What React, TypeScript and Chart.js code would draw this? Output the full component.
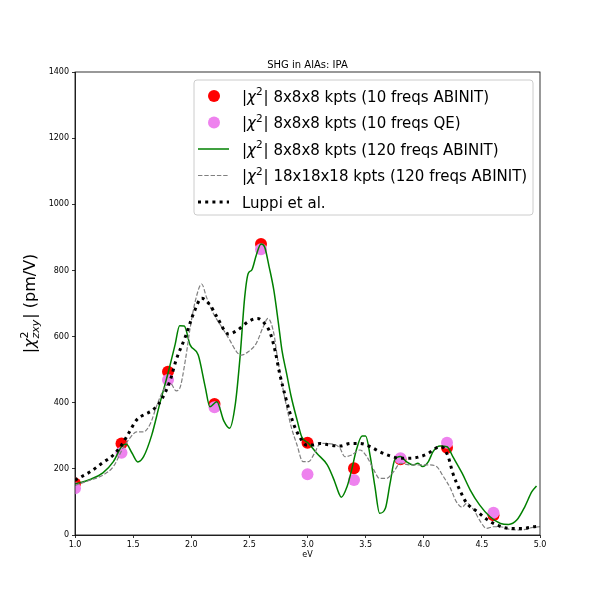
import {useEffect, useRef} from "react";
import {Chart, registerables} from "chart.js";

Chart.register(...registerables);

const FONT = '"DejaVu Sans", sans-serif';

const TITLE = "SHG in AlAs: IPA";
const X_LABEL = "eV";

const xTicks = [1.0, 1.5, 2.0, 2.5, 3.0, 3.5, 4.0, 4.5, 5.0];
const yTicks = [0, 200, 400, 600, 800, 1000, 1200, 1400];

// 10 frequency points
const freqX = [1.0, 1.4, 1.8, 2.2, 2.6, 3.0, 3.4, 3.8, 4.2, 4.6];
const abinit10 = [156, 277, 494, 396, 880, 279, 202, 229, 264, 60];
const qe10 = [141, 249, 469, 386, 864, 184, 166, 232, 279, 67];

// 8x8x8 kpts, 120 freqs ABINIT
const abinit120X = [
  1.0, 1.13, 1.24, 1.33, 1.4, 1.44, 1.49, 1.54, 1.59, 1.66, 1.73, 1.8, 1.86, 1.9, 1.94,
  1.99, 2.06, 2.12, 2.16, 2.22, 2.28, 2.33, 2.38, 2.42, 2.46, 2.49, 2.52, 2.56, 2.6, 2.63,
  2.67, 2.71, 2.75, 2.78, 2.82, 2.86, 2.91, 2.95, 3.01, 3.08, 3.17, 3.23, 3.27, 3.29, 3.34,
  3.38, 3.42, 3.47, 3.5, 3.54, 3.58, 3.62, 3.67, 3.71, 3.75, 3.8, 3.85, 3.91, 3.95, 3.99,
  4.04, 4.08, 4.14, 4.2, 4.25, 4.33, 4.4, 4.48, 4.57, 4.66, 4.73, 4.8, 4.87, 4.93, 4.97,
];
const abinit120Y = [
  154, 168, 188, 222, 267, 275, 248, 221, 237, 302, 398, 489, 574, 633, 632,
  575, 544, 448, 388, 403, 345, 323, 398, 539, 720, 791, 801, 847, 880, 872,
  811, 741, 640, 559, 489, 418, 348, 297, 277, 247, 212, 165, 126, 114, 146,
  197, 257, 299, 299, 237, 146, 66, 81, 156, 227, 237, 222, 212, 217, 207,
  222, 252, 269, 267, 237, 187, 136, 91, 55, 35, 32, 45, 86, 131, 148,
];

// 18x18x18 kpts, 120 freqs ABINIT
const fineX = [
  1.0, 1.13, 1.24, 1.33, 1.42, 1.47, 1.53, 1.59, 1.65, 1.7, 1.76, 1.82, 1.87, 1.9, 1.95,
  1.99, 2.04, 2.09, 2.13, 2.19, 2.26, 2.33, 2.39, 2.43, 2.49, 2.56, 2.62, 2.66, 2.71, 2.74,
  2.78, 2.82, 2.86, 2.91, 2.96, 3.01, 3.06, 3.11, 3.22, 3.28, 3.32, 3.38, 3.45, 3.51, 3.57,
  3.62, 3.68, 3.74, 3.8, 3.88, 3.97, 4.05, 4.11, 4.17, 4.23, 4.28, 4.33, 4.37, 4.43, 4.48,
  4.54, 4.6, 4.66, 4.74, 4.83, 4.94, 5.0,
];
const fineY = [
  150, 166, 181, 207, 267, 292, 312, 312, 338, 388, 438, 459, 436, 443, 530,
  625, 715, 759, 720, 670, 630, 590, 554, 544, 554, 580, 630, 655, 610, 539,
  459, 388, 327, 272, 222, 222, 247, 277, 275, 262, 237, 242, 257, 237, 197,
  171, 171, 191, 217, 212, 212, 212, 207, 176, 141, 101, 84, 96, 76, 45,
  20, 25, 25, 17, 15, 23, 25,
];

// Luppi et al.
const luppiX = [
  1.0, 1.13, 1.24, 1.33, 1.4, 1.46, 1.53, 1.6, 1.67, 1.75, 1.82, 1.87, 1.95, 2.02, 2.09,
  2.16, 2.22, 2.32, 2.4, 2.49, 2.57, 2.63, 2.68, 2.72, 2.76, 2.81, 2.85, 2.89, 2.94, 2.99,
  3.05, 3.11, 3.19, 3.28, 3.37, 3.45, 3.54, 3.62, 3.71, 3.8, 3.88, 3.97, 4.04, 4.1, 4.15,
  4.21, 4.25, 4.31, 4.37, 4.46, 4.54, 4.63, 4.74, 4.86, 4.94, 5.0,
];
const luppiY = [
  166, 191, 219, 242, 272, 307, 348, 365, 378, 413, 469, 529, 600, 670, 716,
  696, 660, 608, 620, 645, 655, 640, 610, 559, 489, 418, 368, 327, 292, 272,
  272, 277, 272, 269, 277, 277, 267, 252, 239, 232, 232, 237, 247, 262, 267,
  237, 187, 136, 96, 71, 48, 30, 20, 20, 25, 27,
];

const seriesLabels = [
  "|χ²| 8x8x8 kpts (10 freqs ABINIT)",
  "|χ²| 8x8x8 kpts (10 freqs QE)",
  "|χ²| 8x8x8 kpts (120 freqs ABINIT)",
  "|χ²| 18x18x18 kpts (120 freqs ABINIT)",
  "Luppi et al.",
];

type Seg =
  | {t: string; size: number; italic?: boolean; dy?: number}
  | {sup: string; sub?: string; size: number; supDy: number; subDy?: number};

const fontStr = (size: number, italic?: boolean) => `${italic ? "italic " : ""}${size}px ${FONT}`;

function segsFromLabel(label: string, size: number): Seg[] {
  const out: Seg[] = [];
  let buf = "";
  const flush = () => {
    if (buf) out.push({t: buf, size});
    buf = "";
  };
  for (const ch of label) {
    if (ch === "χ") {
      flush();
      out.push({t: "χ", size, italic: true});
    } else if (ch === "²") {
      flush();
      out.push({sup: "2", size: size * 0.7, supDy: -size * 0.42});
    } else {
      buf += ch;
    }
  }
  flush();
  return out;
}

function drawRich(ctx: CanvasRenderingContext2D, segs: Seg[], x: number, y: number, draw = true) {
  let cx = x;
  for (const s of segs) {
    if ("sup" in s) {
      ctx.font = fontStr(s.size);
      const w1 = ctx.measureText(s.sup).width;
      if (draw) ctx.fillText(s.sup, cx, y + s.supDy);
      let w2 = 0;
      if (s.sub) {
        ctx.font = fontStr(s.size, true);
        w2 = ctx.measureText(s.sub).width;
        if (draw) ctx.fillText(s.sub, cx, y + (s.subDy || 0));
      }
      cx += Math.max(w1, w2) + 1;
    } else {
      ctx.font = fontStr(s.size, s.italic);
      if (draw) ctx.fillText(s.t, cx, y + (s.dy || 0));
      cx += ctx.measureText(s.t).width;
    }
  }
  return cx - x;
}

const yLabelSegs: Seg[] = [
  {t: "|", size: 16},
  {t: "χ", size: 16, italic: true},
  {sup: "2", sub: "zxy", size: 11, supDy: -7, subDy: 4},
  {t: "| (pm/V)", size: 16},
];

type Handle = {kind: "dot" | "line"; color: string; width?: number; dash?: number[]};
const legendHandles: Handle[] = [
  {kind: "dot", color: "#ff0000"},
  {kind: "dot", color: "#ee82ee"},
  {kind: "line", color: "#008000", width: 1.5},
  {kind: "line", color: "#808080", width: 1.2, dash: [4.4, 1.9]},
  {kind: "line", color: "#000000", width: 3, dash: [3, 4.2]},
];

const decorPlugin = {
  id: "decor",
  afterDraw(chart: Chart) {
    const {ctx, chartArea: a} = chart;
    ctx.save();
    ctx.strokeStyle = "#000";
    ctx.lineWidth = 0.8;
    ctx.strokeRect(a.left, a.top, a.right - a.left, a.bottom - a.top);

    ctx.fillStyle = "#000";
    ctx.textAlign = "center";
    ctx.textBaseline = "middle";
    ctx.font = fontStr(10);
    ctx.fillText(TITLE, (a.left + a.right) / 2, 65);
    ctx.font = fontStr(8);
    ctx.fillText(X_LABEL, (a.left + a.right) / 2, 555);

    // y axis label
    ctx.textAlign = "left";
    ctx.textBaseline = "alphabetic";
    ctx.save();
    ctx.translate(35, (a.top + a.bottom) / 2);
    ctx.rotate(-Math.PI / 2);
    const w = drawRich(ctx, yLabelSegs, 0, 0, false);
    drawRich(ctx, yLabelSegs, -w / 2, 0);
    ctx.restore();

    // legend
    const lx = 194, ly = 80, lw = 339, lh = 135;
    ctx.beginPath();
    ctx.roundRect(lx, ly, lw, lh, 3);
    ctx.fillStyle = "rgba(255,255,255,0.8)";
    ctx.fill();
    ctx.strokeStyle = "#cccccc";
    ctx.lineWidth = 1;
    ctx.stroke();
    seriesLabels.forEach((label, i) => {
      const cy = 96 + i * 26.5;
      const h = legendHandles[i];
      if (h.kind === "dot") {
        ctx.beginPath();
        ctx.arc(214, cy, 6, 0, Math.PI * 2);
        ctx.fillStyle = h.color;
        ctx.fill();
      } else {
        ctx.beginPath();
        ctx.setLineDash(h.dash || []);
        ctx.lineCap = "butt";
        ctx.strokeStyle = h.color;
        ctx.lineWidth = h.width || 1;
        ctx.moveTo(198, cy);
        ctx.lineTo(229, cy);
        ctx.stroke();
        ctx.setLineDash([]);
      }
      ctx.fillStyle = "#000";
      drawRich(ctx, segsFromLabel(label, 15), 242, cy + 5.5);
    });
    ctx.restore();
  },
};

const pts = (xs: number[], ys: number[]) => xs.map((x, i) => ({x, y: ys[i]}));

export default function App() {
  const chartRef = useRef<HTMLCanvasElement>(null);
  const chartInstance = useRef<Chart | null>(null);

  useEffect(() => {
    if (!chartRef.current) return;
    if (chartInstance.current) chartInstance.current.destroy();

    const ctx = chartRef.current.getContext("2d");
    if (!ctx) return;

    const tickFont = {family: FONT, size: 8};

    chartInstance.current = new Chart(ctx, {
      type: "scatter",
      data: {
        datasets: [
          {
            label: seriesLabels[0],
            data: pts(freqX, abinit10),
            backgroundColor: "#ff0000",
            borderWidth: 0,
            pointRadius: 6,
            pointHoverRadius: 6,
            showLine: false,
            order: 5,
          },
          {
            label: seriesLabels[1],
            data: pts(freqX, qe10),
            backgroundColor: "#ee82ee",
            borderWidth: 0,
            pointRadius: 6,
            pointHoverRadius: 6,
            showLine: false,
            order: 4,
          },
          {
            label: seriesLabels[2],
            data: pts(abinit120X, abinit120Y),
            borderColor: "#008000",
            borderWidth: 1.5,
            pointRadius: 0,
            showLine: true,
            cubicInterpolationMode: "monotone",
            order: 3,
          },
          {
            label: seriesLabels[3],
            data: pts(fineX, fineY),
            borderColor: "#808080",
            borderWidth: 1.2,
            borderDash: [4.4, 1.9],
            pointRadius: 0,
            showLine: true,
            cubicInterpolationMode: "monotone",
            order: 2,
          },
          {
            label: seriesLabels[4],
            data: pts(luppiX, luppiY),
            borderColor: "#000000",
            borderWidth: 3,
            borderDash: [3, 4.2],
            borderCapStyle: "butt",
            pointRadius: 0,
            showLine: true,
            cubicInterpolationMode: "monotone",
            order: 1,
          },
        ],
      },
      options: {
        responsive: false,
        animation: false,
        layout: {padding: {left: 35, right: 60, top: 72, bottom: 45}},
        scales: {
          x: {
            type: "linear",
            min: 1,
            max: 5,
            afterFit: scale => {
              scale.height = 20;
            },
            afterBuildTicks: scale => {
              scale.ticks = xTicks.map(v => ({value: v}));
            },
            grid: {drawOnChartArea: false, drawTicks: true, tickLength: 3, color: "#000", lineWidth: 0.8},
            border: {color: "#000", width: 0.8},
            ticks: {
              font: tickFont,
              color: "#000",
              padding: 2,
              maxRotation: 0,
              autoSkip: false,
              callback: v => Number(v).toFixed(1),
            },
          },
          y: {
            type: "linear",
            min: 0,
            max: 1400,
            afterFit: scale => {
              scale.width = 40;
            },
            afterBuildTicks: scale => {
              scale.ticks = yTicks.map(v => ({value: v}));
            },
            grid: {drawOnChartArea: false, drawTicks: true, tickLength: 3, color: "#000", lineWidth: 0.8},
            border: {color: "#000", width: 0.8},
            ticks: {
              font: tickFont,
              color: "#000",
              padding: 3,
              autoSkip: false,
              callback: v => String(v),
            },
          },
        },
        plugins: {
          legend: {display: false},
          tooltip: {enabled: false},
        },
      },
      plugins: [decorPlugin],
    });

    return () => {
      if (chartInstance.current) {
        chartInstance.current.destroy();
        chartInstance.current = null;
      }
    };
  }, []);

  return (
    <div style={{position: "absolute", left: 0, top: 0, width: 600, height: 600, background: "#fff"}}>
      <canvas ref={chartRef} width={600} height={600} />
    </div>
  );
}
